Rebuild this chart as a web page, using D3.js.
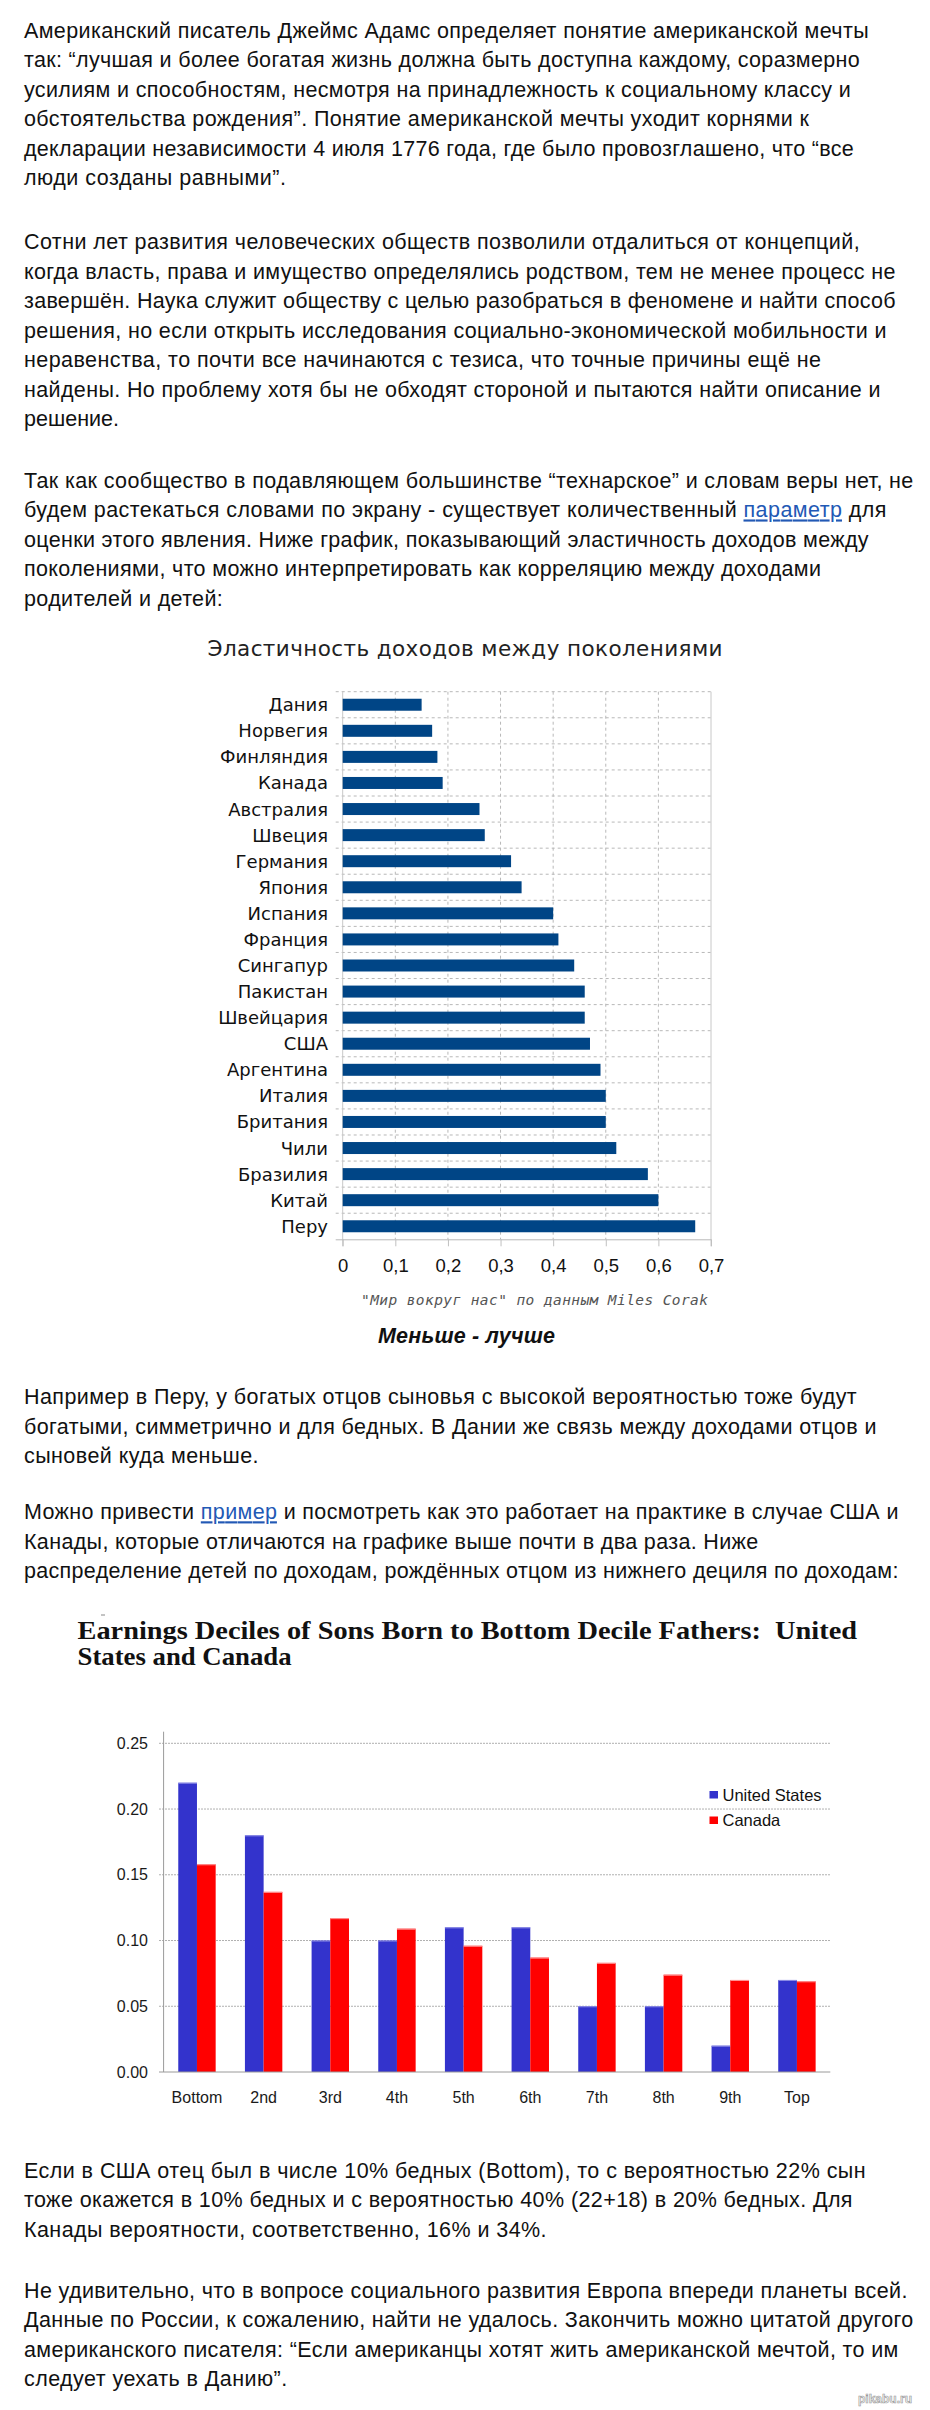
<!DOCTYPE html>
<html>
<head>
<meta charset="utf-8">
<script src="https://cdn.jsdelivr.net/npm/d3@7"></script>
<style>
  html, body { margin: 0; padding: 0; background: #ffffff; }
  svg { display: block; }
</style>
</head>
<body>
<svg id="page" width="930" height="2410"></svg>
<script>
// ---------------- DATA ----------------
// Chart 1: intergenerational earnings elasticity
const countries = ["Дания","Норвегия","Финляндия","Канада","Австралия","Швеция","Германия","Япония","Испания","Франция","Сингапур","Пакистан","Швейцария","США","Аргентина","Италия","Британия","Чили","Бразилия","Китай","Перу"];
const elasticity = [0.15,0.17,0.18,0.19,0.26,0.27,0.32,0.34,0.40,0.41,0.44,0.46,0.46,0.47,0.49,0.50,0.50,0.52,0.58,0.60,0.67];
const elasticityTicks = [0,0.1,0.2,0.3,0.4,0.5,0.6,0.7];
const chart1Title = "Эластичность доходов между поколениями";
const chart1Source = "\"Мир вокруг нас\" по данным Miles Corak";
const chart1Note = "Меньше - лучше";

// Chart 2: earnings deciles of sons born to bottom-decile fathers
const deciles = ["Bottom","2nd","3rd","4th","5th","6th","7th","8th","9th","Top"];
const seriesNames = ["United States","Canada"];
const usShares = [0.22,0.18,0.10,0.10,0.11,0.11,0.05,0.05,0.02,0.07];
const canadaShares = [0.158,0.137,0.117,0.109,0.096,0.087,0.083,0.074,0.070,0.069];
const shareTicks = [0,0.05,0.10,0.15,0.20,0.25];
const chart2TitleLines = ["Earnings Deciles of Sons Born to Bottom Decile Fathers:  United", "States and Canada"];

// Article text (lines as they wrap in the picture)
const paragraphs = [
  [["Американский писатель Джеймс Адамс определяет понятие американской мечты"],
   ["так: “лучшая и более богатая жизнь должна быть доступна каждому, соразмерно"],
   ["усилиям и способностям, несмотря на принадлежность к социальному классу и"],
   ["обстоятельства рождения”. Понятие американской мечты уходит корнями к"],
   ["декларации независимости 4 июля 1776 года, где было провозглашено, что “все"],
   ["люди созданы равными”."]],
  [["Сотни лет развития человеческих обществ позволили отдалиться от концепций,"],
   ["когда власть, права и имущество определялись родством, тем не менее процесс не"],
   ["завершён. Наука служит обществу с целью разобраться в феномене и найти способ"],
   ["решения, но если открыть исследования социально-экономической мобильности и"],
   ["неравенства, то почти все начинаются с тезиса, что точные причины ещё не"],
   ["найдены. Но проблему хотя бы не обходят стороной и пытаются найти описание и"],
   ["решение."]],
  [["Так как сообщество в подавляющем большинстве “технарское” и словам веры нет, не"],
   ["будем растекаться словами по экрану - существует количественный ", {link:"параметр"}, " для"],
   ["оценки этого явления. Ниже график, показывающий эластичность доходов между"],
   ["поколениями, что можно интерпретировать как корреляцию между доходами"],
   ["родителей и детей:"]],
  [["Например в Перу, у богатых отцов сыновья с высокой вероятностью тоже будут"],
   ["богатыми, симметрично и для бедных. В Дании же связь между доходами отцов и"],
   ["сыновей куда меньше."]],
  [["Можно привести ", {link:"пример"}, " и посмотреть как это работает на практике в случае США и"],
   ["Канады, которые отличаются на графике выше почти в два раза. Ниже"],
   ["распределение детей по доходам, рождённых отцом из нижнего дециля по доходам:"]],
  [["Если в США отец был в числе 10% бедных (Bottom), то с вероятностью 22% сын"],
   ["тоже окажется в 10% бедных и с вероятностью 40% (22+18) в 20% бедных. Для"],
   ["Канады вероятности, соответственно, 16% и 34%."]],
  [["Не удивительно, что в вопросе социального развития Европа впереди планеты всей."],
   ["Данные по России, к сожалению, найти не удалось. Закончить можно цитатой другого"],
   ["американского писателя: “Если американцы хотят жить американской мечтой, то им"],
   ["следует уехать в Данию”."]]
];

// ---------------- LAYOUT ----------------
const paraFirstBaseline = [37.7, 249.3, 488, 1404.3, 1519.3, 2178, 2298];
const lineHeight = 29.45;
const lineEnds = [
  [867.6, 858.7, 849.7, 808, 852.7, 285],
  [858.7, 894.5, 894.5, 885.5, 820, 879.5, 118],
  [912.3, 885.5, 867.6, 820, 221.8],
  [855.7, 875.4, 257.6],
  [897.4, 757.3, 897.4],
  [864.6, 851.5, 545.6],
  [906.4, 912.3, 897.4, 286.2]
];
const textLeft = 24;

const svg = d3.select("#page");

// ---- paragraphs ----
paragraphs.forEach((para, pi) => {
  para.forEach((parts, li) => {
    const t = svg.append("text")
      .attr("x", textLeft)
      .attr("y", paraFirstBaseline[pi] + li * lineHeight)
      .attr("font-family", "'Liberation Sans', Arial, sans-serif")
      .attr("font-size", 21.5)
      .attr("fill", "#111")
      .attr("textLength", lineEnds[pi][li] - textLeft + 1)
      .attr("xml:space", "preserve");
    parts.forEach(p => {
      if (typeof p === "string") {
        t.append("tspan").text(p);
      } else {
        t.append("tspan").text(p.link)
          .attr("fill", "#2259b5")
          .attr("text-decoration", "underline");
      }
    });
  });
});

// ---------------- CHART 1 ----------------
const c1 = {left: 342.7, right: 711, top: 691.7, bottom: 1239.3};
const x1 = d3.scaleLinear().domain([0, 0.7]).range([c1.left, c1.right]);
const y1 = d3.scaleBand().domain(countries).range([c1.top, c1.bottom]).paddingInner(0.54).paddingOuter(0.27);
const g1 = svg.append("g");
const gridCol = "#b8b8b8";

g1.append("text")
  .attr("x", 465).attr("y", 656)
  .attr("text-anchor", "middle")
  .attr("font-family", "'DejaVu Sans', sans-serif")
  .attr("font-size", 21.5)
  .attr("fill", "#222")
  .attr("textLength", 515)
  .text(chart1Title);

// vertical grid lines
g1.selectAll(".vgrid").data(elasticityTicks.slice(1, -1)).join("line")
  .attr("x1", d => x1(d)).attr("x2", d => x1(d))
  .attr("y1", c1.top).attr("y2", c1.bottom)
  .attr("stroke", gridCol).attr("stroke-dasharray", "3,3");
// horizontal category separators
const step1 = y1.step();
g1.selectAll(".hgrid").data(d3.range(countries.length)).join("line")
  .attr("x1", c1.left - 7).attr("x2", c1.right)
  .attr("y1", i => c1.top + i * step1).attr("y2", i => c1.top + i * step1)
  .attr("stroke", gridCol).attr("stroke-dasharray", "3,3");
// right border and left axis
g1.append("line").attr("x1", c1.right).attr("x2", c1.right).attr("y1", c1.top).attr("y2", c1.bottom + 7)
  .attr("stroke", "#c8c8c8");
g1.append("line").attr("x1", c1.left).attr("x2", c1.left).attr("y1", c1.top).attr("y2", c1.bottom + 7)
  .attr("stroke", "#c8c8c8");

// bars
g1.selectAll(".bar").data(countries).join("rect")
  .attr("x", x1(0))
  .attr("y", d => y1(d))
  .attr("width", (d, i) => x1(elasticity[i]) - x1(0))
  .attr("height", y1.bandwidth())
  .attr("fill", "#004586");

// bottom axis
const ax1 = g1.append("g").attr("transform", `translate(0,${c1.bottom})`)
  .call(d3.axisBottom(x1).tickValues(elasticityTicks).tickSize(7).tickPadding(13)
    .tickFormat(d => d3.format(".1~f")(d).replace(".", ",")));
ax1.select(".domain").attr("stroke", "#b8b8b8").attr("d", `M${c1.left - 7},0.5H${c1.right}`);
ax1.selectAll(".tick line").attr("stroke", "#c0c0c0");
ax1.selectAll(".tick text")
  .attr("font-family", "'Liberation Sans', Arial, sans-serif")
  .attr("font-size", 18.5).attr("fill", "#111").attr("dy", "0.71em");

// category labels
g1.selectAll(".clabel").data(countries).join("text")
  .attr("x", 328)
  .attr("y", d => y1(d) + y1.bandwidth() / 2)
  .attr("dy", "0.36em")
  .attr("text-anchor", "end")
  .attr("font-family", "'DejaVu Sans', sans-serif")
  .attr("font-size", 18)
  .attr("fill", "#111")
  .text(d => d);

g1.append("text")
  .attr("x", 708).attr("y", 1304.5)
  .attr("text-anchor", "end")
  .attr("font-family", "'DejaVu Sans Mono', monospace")
  .attr("font-style", "italic")
  .attr("font-size", 14.5)
  .attr("fill", "#555")
  .attr("textLength", 347)
  .text(chart1Source);

g1.append("text")
  .attr("x", 466.5).attr("y", 1343.3)
  .attr("text-anchor", "middle")
  .attr("font-family", "'Liberation Sans', Arial, sans-serif")
  .attr("font-style", "italic").attr("font-weight", "bold")
  .attr("font-size", 21.5)
  .attr("fill", "#111")
  .attr("textLength", 177)
  .text(chart1Note);

// ---------------- CHART 2 ----------------
const g2 = svg.append("g");
g2.append("line").attr("x1", 101).attr("x2", 105).attr("y1", 1615).attr("y2", 1615).attr("stroke", "#888");
const titleEnds = [857, 291.6];
chart2TitleLines.forEach((t, i) => {
  g2.append("text")
    .attr("x", 77.5).attr("y", 1639.3 + i * 25.7)
    .attr("font-family", "'Liberation Serif', 'DejaVu Serif', serif")
    .attr("font-weight", "bold")
    .attr("font-size", 25)
    .attr("fill", "#111")
    .attr("textLength", titleEnds[i] - 77.5)
    .attr("lengthAdjust", "spacingAndGlyphs")
    .attr("xml:space", "preserve")
    .text(t);
});

const c2 = {left: 163.6, right: 830.3, top: 1731.7, bottom: 2072};
const x2 = d3.scaleBand().domain(deciles).range([c2.left, c2.right]).paddingInner(0.439).paddingOuter(0.22);
const xs = d3.scaleBand().domain(seriesNames).range([0, x2.bandwidth()]);
const y2 = d3.scaleLinear().domain([0, 0.25]).range([c2.bottom, 1743.3]);
const colors = {"United States": "#3333cc", "Canada": "#ff0000"};
const tops = {"United States": "#8f8fe6", "Canada": "#ff9a9a"};

// gridlines
g2.selectAll(".g2grid").data(shareTicks.slice(1)).join("line")
  .attr("x1", 159).attr("x2", c2.right)
  .attr("y1", d => y2(d)).attr("y2", d => y2(d))
  .attr("stroke", "#b0b0b0").attr("stroke-dasharray", "2,1");

// bars
const rows = deciles.map((d, i) => ({decile: d, values: [
  {series: "United States", v: usShares[i]},
  {series: "Canada", v: canadaShares[i]}
]}));
const grp = g2.selectAll(".grp").data(rows).join("g")
  .attr("transform", d => `translate(${x2(d.decile)},0)`);
grp.selectAll("rect.b").data(d => d.values).join("rect")
  .attr("x", d => xs(d.series))
  .attr("y", d => y2(d.v))
  .attr("width", xs.bandwidth())
  .attr("height", d => y2(0) - y2(d.v))
  .attr("fill", d => colors[d.series]);
grp.selectAll("line.t").data(d => d.values).join("line")
  .attr("x1", d => xs(d.series)).attr("x2", d => xs(d.series) + xs.bandwidth())
  .attr("y1", d => y2(d.v) + 0.5).attr("y2", d => y2(d.v) + 0.5)
  .attr("stroke", d => tops[d.series]);

// axes
g2.append("line").attr("x1", c2.left).attr("x2", c2.left).attr("y1", c2.top).attr("y2", c2.bottom)
  .attr("stroke", "#9a9a9a");
g2.append("line").attr("x1", 159).attr("x2", c2.right).attr("y1", c2.bottom).attr("y2", c2.bottom)
  .attr("stroke", "#9a9a9a");

const ay2 = g2.append("g").attr("transform", `translate(${c2.left},0)`)
  .call(d3.axisLeft(y2).tickValues(shareTicks).tickSize(0).tickPadding(15.6).tickFormat(d3.format(".2f")));
ay2.select(".domain").remove();
ay2.selectAll(".tick text")
  .attr("font-family", "'Liberation Sans', Arial, sans-serif")
  .attr("font-size", 16).attr("fill", "#1a1a1a");

const ax2 = g2.append("g").attr("transform", `translate(0,${c2.bottom})`)
  .call(d3.axisBottom(x2).tickSize(0).tickPadding(20));
ax2.select(".domain").remove();
ax2.selectAll(".tick text")
  .attr("font-family", "'Liberation Sans', Arial, sans-serif")
  .attr("font-size", 16).attr("fill", "#1a1a1a").attr("dy", "0.71em");

// legend
const leg = g2.selectAll(".leg").data(seriesNames).join("g")
  .attr("transform", (d, i) => `translate(709.5,${1791 + i * 25.5})`);
leg.append("rect").attr("width", 8.5).attr("height", 7.5).attr("fill", d => colors[d]);
leg.append("text").attr("x", 13).attr("y", 9.7)
  .attr("font-family", "'Liberation Sans', Arial, sans-serif")
  .attr("font-size", 16.5).attr("fill", "#111")
  .text(d => d);

// watermark
svg.append("text")
  .attr("x", 912).attr("y", 2403)
  .attr("text-anchor", "end")
  .attr("font-family", "'Liberation Sans', Arial, sans-serif")
  .attr("font-weight", "bold")
  .attr("font-size", 12)
  .attr("fill", "#f4f4f4").attr("stroke", "#999").attr("stroke-width", 0.6)
  .text("pikabu.ru");
</script>
</body>
</html>
